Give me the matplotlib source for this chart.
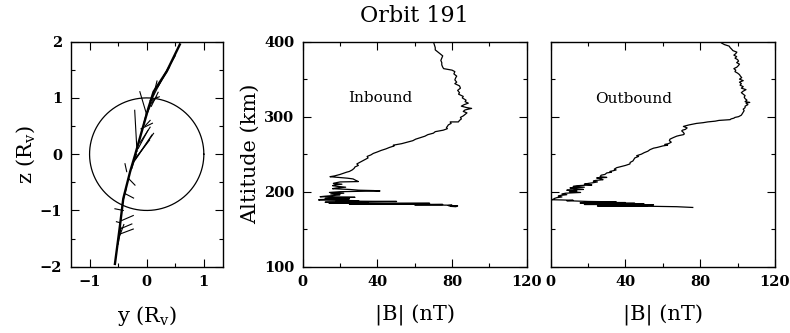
import numpy as np
import matplotlib
matplotlib.use("Agg")
import matplotlib.pyplot as plt
from matplotlib.ticker import MultipleLocator

plt.rcParams['font.family'] = ['DejaVu Serif']
plt.rcParams['mathtext.fontset'] = 'dejavuserif'

# ---------------- data ----------------
# spacecraft trajectory (y, z in Venus radii)
traj_y = [-0.556, -0.468, -0.41, -0.29, -0.205, -0.088, 0.03, 0.12, 0.35, 0.58]
traj_z = [-1.95, -1.27, -0.79, -0.31, -0.02, 0.40, 0.82, 1.11, 1.47, 1.95]

# field vector whiskers: base (y, z) and tip (y, z)
whisk_base_y = [0.00, -0.17, -0.23, -0.20, -0.18, -0.03, 0.10, 0.06, -0.32, -0.38, -0.41,
                -0.44, -0.47, -0.47, -0.46, -0.38, -0.10, 0.10, 0.20, 0.30, -0.50, 0.08,
                -0.15, -0.12, -0.05, -0.26, -0.43, -0.49, 0.12, 0.02]
whisk_base_z = [0.70, 0.05, -0.14, -0.10, -0.05, 0.50, 0.92, 0.95, -0.43, -0.70, -1.00,
                -1.18, -1.33, -1.42, -1.22, -0.17, 0.45, 1.00, 1.20, 1.40, -1.60, 0.85,
                0.10, 0.20, 0.55, -0.25, -0.90, -1.50, 1.05, 0.75]
whisk_tip_y = [-0.12, -0.21, 0.09, 0.12, 0.05, 0.06, 0.175, 0.22, -0.205, -0.23, -0.556,
               -0.235, -0.26, -0.235, -0.53, -0.35, 0.10, 0.25, 0.40, 0.50, -0.45, 0.20,
               0.02, 0.06, 0.00, -0.18, -0.36, -0.40, 0.18, 0.10]
whisk_tip_z = [1.11, 0.78, 0.34, 0.37, 0.25, 0.60, 1.02, 1.02, -0.55, -0.78, -0.97,
               -1.09, -1.24, -1.33, -1.20, -0.31, 0.55, 1.30, 1.55, 1.75, -1.30, 1.10,
               0.42, 0.48, 0.75, 0.00, -0.62, -1.25, 1.30, 0.95]

# Inbound profile: altitude (km), |B| (nT)
alt_in = [400, 396, 392, 389, 386, 383, 381, 378, 375, 372, 369, 366, 364, 362, 360, 357, 354, 352,
          349, 346, 344, 341, 338, 335, 332, 330, 327, 325, 322, 320, 318, 316, 314, 312, 311, 309,
          307, 305, 303, 301, 299, 297, 295, 293, 293, 291, 289, 287, 285.5, 284, 282, 280, 278, 276,
          274, 272, 270, 268, 266, 264, 262, 261, 259, 257, 255, 253, 251, 249, 247, 245, 243, 241,
          239, 237, 235, 233, 231, 229, 227, 226, 224.5, 223, 221, 220, 219, 218, 217, 215, 213.5,
          213, 212, 211, 210, 209, 208, 207, 206, 205, 204, 203, 202, 201.5, 201, 200.5, 200, 199,
          198.5, 198, 197, 196, 195, 194, 193.3, 193, 192.5, 192, 191, 190.5, 190, 189.5, 189, 188.5,
          188, 187.5, 187, 186.5, 186, 185.5, 185, 184.5, 184, 183.5, 183, 182.5, 182, 181.5, 181,
          180.5, 180]
b_in = [70, 70.5, 71, 71, 72.5, 74, 75, 74.5, 74, 74.5, 74.5, 75, 75.5, 80, 81.5, 81, 82.5, 82,
        81.5, 82.5, 81.5, 84, 84.5, 83, 84, 83.5, 86, 85.5, 87.5, 87, 88.7, 86.5, 85, 88, 90.5, 87,
        86, 88, 87, 86, 84.5, 85, 84, 83.4, 79, 79.5, 78, 77.5, 77, 77.5, 75.3, 71, 70, 67,
        65.5, 63, 60.5, 59, 56, 53, 48.5, 49, 46.5, 44.5, 42, 40, 37.8, 36.5, 34.5, 35, 33.5, 32,
        30.5, 29, 29.8, 28, 27.5, 26.5, 25, 23.5, 21.8, 20, 17, 14.6, 19, 24, 27, 28.5, 29.8,
        20, 18, 16.4, 21, 17, 16, 19, 23, 18, 16, 25, 30, 38, 41.4, 30, 20, 14.3,
        18, 22, 15, 20, 17, 12, 9.3, 20, 28, 18, 12, 25, 15, 9.3, 8.5, 20,
        30, 18, 50.3, 25, 12, 35, 14, 68, 40, 25, 75, 60, 80, 78, 83,
        79, 82]

# Outbound profile
alt_out = [400, 398, 396, 394, 392, 390, 388, 386, 384, 382, 380, 378, 376, 374, 372, 370, 368, 366,
           364, 362, 360, 358, 356, 354, 352, 350, 348, 346, 344, 342, 340, 338, 336, 334, 332, 330,
           328, 326, 324, 322, 320, 319, 318, 316, 314, 312, 310, 308, 306, 304, 302, 300, 299, 298,
           297, 296, 295, 294, 293, 292, 291, 290, 289, 288, 287, 286, 285, 284, 283, 282, 281, 279,
           277, 276, 275, 274, 272, 270, 268, 266, 264, 263, 262, 261, 259, 258, 256, 254, 252, 250,
           248, 247, 245, 243, 241, 239, 237, 235, 233, 232, 230, 229, 228, 227, 226, 225, 223, 222,
           220, 219, 218.3, 217, 216, 215, 214, 213, 212, 211, 210, 209, 208, 207, 206, 205, 204,
           203, 202.5, 202, 201, 200, 199, 198, 197, 196, 195, 194, 193, 192, 191, 190, 189.3, 189,
           188.5, 188, 187.5, 187, 186.5, 186, 185.5, 185, 184.5, 184, 183.5, 183, 182.5, 182, 181.5,
           181, 180.5, 180, 179.5, 179]
b_out = [90.7, 91.5, 93, 95.5, 96, 96.8, 97.5, 99.6, 99, 98, 99.5, 98.6, 100, 100.5, 99.5, 101, 100.4, 99.6,
         98, 99, 98.6, 100, 101, 101.5, 102.2, 101, 103, 101, 102, 101.3, 103, 102, 104.5, 103, 102, 103,
         104, 103.5, 104, 105, 104, 106.5, 104.5, 105.5, 104, 104, 103, 103.5, 103, 102.5, 102, 100.5, 98.6, 98,
         96.5, 96, 90, 88, 84, 81.6, 78, 76, 74, 72.5, 71, 72, 73, 72.5, 72, 70.5, 70.1, 71,
         71.5, 71, 69, 67.4, 65.5, 63.8, 63.5, 64.5, 63, 61, 62.5, 60, 57, 55, 53.1, 52, 50, 48.5,
         46, 47, 45, 44.5, 44, 42.5, 42.4, 40, 37, 35.3, 34, 35, 33.5, 31.7, 32.5, 30, 29, 27,
         26.4, 30, 24.6, 27, 28, 24, 22.8, 25, 22.8, 20, 18, 22, 14, 12, 18, 10.3, 13,
         17.5, 12, 8.6, 14, 10, 16, 8, 6, 8.6, 5, 4, 6, 3.2, 2, 1.4, 0.5, 6,
         12, 8.6, 15, 20, 35, 18, 40, 15.7, 45, 20, 50, 18, 55, 30, 52,
         25, 55, 67.4, 72, 76]

# ---------------- figure ----------------
fig = plt.figure(figsize=(7.9, 3.33), dpi=100)
tick_fs = 10.5
lab_fs = 15

def style(ax):
    ax.tick_params(which='both', direction='in', top=True, right=True, width=0.8)
    ax.tick_params(which='major', length=6, labelsize=tick_fs, pad=6)
    ax.tick_params(which='minor', length=3)
    for lab in ax.get_xticklabels() + ax.get_yticklabels():
        lab.set_fontweight('bold')
    for s in ax.spines.values():
        s.set_linewidth(1.0)

bot, hgt = 0.199, 0.676

# left: trajectory
ax0 = fig.add_axes([0.0895, bot, 0.1924, hgt])
ax0.plot(traj_y, traj_z, color='black', lw=1.7)
for by, bz, ty, tz in zip(whisk_base_y, whisk_base_z, whisk_tip_y, whisk_tip_z):
    ax0.plot([by, ty], [bz, tz], color='black', lw=0.8)
th = np.linspace(0, 2 * np.pi, 300)
ax0.plot(np.cos(th), np.sin(th), color='black', lw=0.9)
ax0.set_xlim(-1.33, 1.33)
ax0.set_ylim(-2, 2)
ax0.xaxis.set_major_locator(MultipleLocator(1))
ax0.yaxis.set_major_locator(MultipleLocator(1))
ax0.xaxis.set_minor_locator(MultipleLocator(0.5))
ax0.yaxis.set_minor_locator(MultipleLocator(0.5))
ax0.set_xlabel(r'y (R$_{\rm v}$)', fontsize=lab_fs, labelpad=11)
ax0.set_ylabel(r'z (R$_{\rm v}$)', fontsize=lab_fs, labelpad=2)
style(ax0)

# middle: inbound
ax1 = fig.add_axes([0.3832, bot, 0.2835, hgt])
ax1.plot(b_in, alt_in, color='black', lw=0.9)
ax1.set_xlim(0, 120)
ax1.set_ylim(100, 400)
ax1.xaxis.set_major_locator(MultipleLocator(40))
ax1.xaxis.set_minor_locator(MultipleLocator(20))
ax1.yaxis.set_major_locator(MultipleLocator(100))
ax1.yaxis.set_minor_locator(MultipleLocator(50))
ax1.set_xlabel('|B| (nT)', fontsize=lab_fs, labelpad=11)
ax1.set_ylabel('Altitude (km)', fontsize=lab_fs, labelpad=3)
ax1.text(41.7, 324.5, 'Inbound', fontsize=11, ha='center', va='center')
ax1.set_title('Orbit 191', fontsize=16, pad=14)
style(ax1)

# right: outbound
ax2 = fig.add_axes([0.6971, bot, 0.2839, hgt])
ax2.plot(b_out, alt_out, color='black', lw=0.9)
ax2.set_xlim(0, 120)
ax2.set_ylim(100, 400)
ax2.xaxis.set_major_locator(MultipleLocator(40))
ax2.xaxis.set_minor_locator(MultipleLocator(20))
ax2.yaxis.set_major_locator(MultipleLocator(100))
ax2.yaxis.set_minor_locator(MultipleLocator(50))
ax2.set_yticklabels([])
ax2.set_xlabel('|B| (nT)', fontsize=lab_fs, labelpad=11)
ax2.text(44.3, 324, 'Outbound', fontsize=11, ha='center', va='center')
style(ax2)

fig.savefig('out.png', dpi=100)
